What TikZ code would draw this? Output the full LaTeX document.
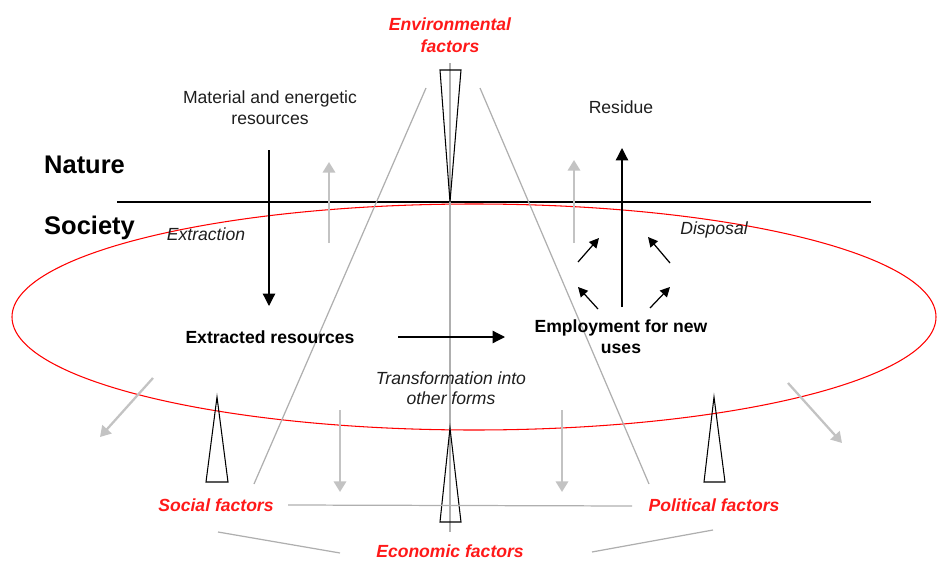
\documentclass[tikz,border=0pt]{standalone}
\usepackage{fontspec}
\setmainfont{Liberation Sans}
\usepackage{tikz}
\usetikzlibrary{arrows,arrows.meta,positioning,calc}

\definecolor{factorred}{RGB}{255,25,25}
\definecolor{textgray}{RGB}{30,30,30}
\definecolor{flowgray}{RGB}{195,195,195}
\definecolor{conegray}{RGB}{175,175,175}

\begin{document}
\begin{tikzpicture}[x=0.02cm,y=-0.02cm,
			font=\fontsize{10pt}{12pt}\selectfont,text=textgray,
			flow/.style={-{Triangle[length=7pt,width=7pt]},line width=0.7pt,draw=black},
			small flow/.style={-{Triangle[length=5.5pt,width=5.5pt]},line width=0.7pt,draw=black},
			back flow/.style={-{Triangle[length=6pt,width=7pt]},line width=1.3pt,draw=flowgray},
			cone/.style={draw=conegray,line width=0.7pt},
			wedge/.style={draw=black,line width=0.6pt},
			factor/.style={text=factorred,font=\fontsize{10pt}{12.5pt}\selectfont\bfseries\itshape,align=center},
			realm/.style={font=\fontsize{14.5pt}{16pt}\selectfont\bfseries,text=black},
			stock/.style={font=\fontsize{10pt}{12pt}\selectfont\bfseries,text=black,align=center},
			phase/.style={font=\fontsize{10pt}{11.5pt}\selectfont\itshape,align=center}]
			\useasboundingbox (0,0) rectangle (937,561);
			
			% society ellipse and nature border
			\draw[red,line width=0.6pt] (474,317) ellipse [x radius=462, y radius=113];
			\coordinate (border w) at (117,202);
			\coordinate (border e) at (871,202);
			\draw[line width=0.6pt] (border w) -- (border e);
			
			% cone of factors
			\coordinate (axis top) at (450,63);
			\coordinate (axis bot) at (450,532);
			\coordinate (cone lt) at (426,88);
			\coordinate (cone lb) at (254,484);
			\coordinate (cone rt) at (480,88);
			\coordinate (cone rb) at (649,484);
			\draw[cone] (axis top) -- (axis bot);
			\draw[cone] (cone lt) -- (cone lb);
			\draw[cone] (cone rt) -- (cone rb);
			
			% wedges
			\draw[wedge] (440,70) -- (461,70) -- (450,202) -- cycle;
			\draw[wedge] (450,428) -- (461,522) -- (440,522) -- cycle;
			\draw[wedge] (217,397) -- (228,482) -- (206,482) -- cycle;
			\draw[wedge] (714,397) -- (725,482) -- (704,482) -- cycle;
			
			% labels
			\node[factor]    (env)       at (450,35)   {Environmental\\factors};
			\node[factor]    (social)    at (216,505)  {Social factors};
			\node[factor]    (political) at (714,505)  {Political factors};
			\node[factor]    (economic)  at (450,551)  {Economic factors};
			\node[realm, anchor=west] (nature)  at (38,165) {Nature};
			\node[realm, anchor=west] (society) at (38,228) {Society};
			\node[align=center] (material) at (270,108) {Material and energetic\\resources};
			\node            (residue)   at (621,107)  {Residue};
			\node[phase]     (extraction) at (206,234) {Extraction};
			\node[phase]     (disposal)  at (714,230)  {Disposal};
			\node[phase]     (transform) at (451,388)  {Transformation into\\other forms};
			\node[stock]     (extracted) at (270,337)  {Extracted resources};
			\node[stock]     (employment) at (621,337) {Employment for new\\uses};
			
			% links between factors
			\coordinate (soc e)  at (288,505);
			\coordinate (pol w)  at (632,506);
			\coordinate (soc s)  at (218,532);
			\coordinate (eco w)  at (340,553);
			\coordinate (eco e)  at (592,552);
			\coordinate (pol s)  at (713,530);
			\draw[cone] (soc e) -- (pol w);
			\draw[cone] (soc s) -- (eco w);
			\draw[cone] (eco e) -- (pol s);
			
			% material flows
			\coordinate (in top)   at (269,150);
			\coordinate (in tip)   at (269,306);
			\coordinate (tr from)  at (398,337);
			\coordinate (tr to)    at (505,337);
			\coordinate (out bot)  at (622,307);
			\coordinate (out tip)  at (622,148);
			\coordinate (d1 from) at (578,262);
			\coordinate (d1 to)   at (599,238);
			\coordinate (d2 from) at (670,263);
			\coordinate (d2 to)   at (648,237);
			\coordinate (d3 from) at (598,309);
			\coordinate (d3 to)   at (578,287);
			\coordinate (d4 from) at (650,308);
			\coordinate (d4 to)   at (670,287);
			
			\path
			
			(in top) edge[flow] (in tip)
			
			(tr from) edge[flow] (tr to)
			
			(out bot) edge[flow] (out tip)
			
			(d1 from) edge[small flow] (d1 to)
			
			(d2 from) edge[small flow] (d2 to)
			
			(d3 from) edge[small flow] (d3 to)
			
			(d4 from) edge[small flow] (d4 to);
			
			% back flows
			\coordinate (g1 from) at (329,243);
			\coordinate (g1 to)   at (329,162);
			\coordinate (g2 from) at (574,243);
			\coordinate (g2 to)   at (574,160);
			\coordinate (g3 from) at (340,410);
			\coordinate (g3 to)   at (340,492);
			\coordinate (g4 from) at (562,410);
			\coordinate (g4 to)   at (562,492);
			\coordinate (g5 from) at (153,378);
			\coordinate (g5 to)   at (100,437);
			\coordinate (g6 from) at (788,383);
			\coordinate (g6 to)   at (842,443);
			
			\path
			
			(g1 from) edge[back flow] (g1 to)
			
			(g2 from) edge[back flow] (g2 to)
			
			(g3 from) edge[back flow] (g3 to)
			
			(g4 from) edge[back flow] (g4 to)
			
			(g5 from) edge[back flow] (g5 to)
			
			(g6 from) edge[back flow] (g6 to);
			\end{tikzpicture}
\end{document}
